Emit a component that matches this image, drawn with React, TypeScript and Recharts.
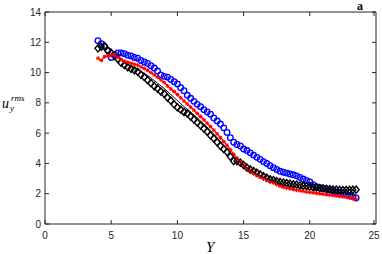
import { ScatterChart, Scatter, XAxis, YAxis } from 'recharts';

const ys = [
  4.0, 4.25, 4.5, 4.75, 5.0, 5.25, 5.5, 5.75, 6.0, 6.25, 6.5, 6.75, 7.0, 7.25, 7.5, 7.75,
  8.0, 8.25, 8.5, 8.75, 9.0, 9.25, 9.5, 9.75, 10.0, 10.25, 10.5, 10.75, 11.0, 11.25, 11.5, 11.75,
  12.0, 12.25, 12.5, 12.75, 13.0, 13.25, 13.5, 13.75, 14.0, 14.25, 14.5, 14.75, 15.0, 15.25, 15.5, 15.75,
  16.0, 16.25, 16.5, 16.75, 17.0, 17.25, 17.5, 17.75, 18.0, 18.25, 18.5, 18.75, 19.0, 19.25, 19.5, 19.75,
  20.0, 20.25, 20.5, 20.75, 21.0, 21.25, 21.5, 21.75, 22.0, 22.25, 22.5, 22.75, 23.0, 23.25, 23.5,
];

const blueRms = [
  12.1, 11.9, 11.7, 11.45, 11.0, 11.2, 11.3, 11.3, 11.25, 11.15, 11.1, 11.0, 10.95, 10.8, 10.7, 10.6,
  10.45, 10.3, 10.1, 9.85, 9.75, 9.7, 9.55, 9.4, 9.25, 9.0, 8.8, 8.5, 8.3, 8.1, 7.9, 7.75,
  7.55, 7.4, 7.25, 7.0, 6.8, 6.6, 6.35, 6.05, 5.7, 5.4, 5.25, 5.15, 4.95, 4.85, 4.7, 4.55,
  4.4, 4.27, 4.12, 4.0, 3.85, 3.72, 3.6, 3.48, 3.42, 3.36, 3.3, 3.25, 3.18, 3.08, 2.97, 2.88,
  2.78, 2.6, 2.47, 2.4, 2.35, 2.3, 2.25, 2.18, 2.12, 2.06, 2.01, 1.95, 1.88, 1.8, 1.72,
];

const blackRms = [
  11.6, 11.7, 11.75, 11.45, 11.3, 11.1, 10.9, 10.65, 10.5, 10.35, 10.25, 10.15, 10.05, 9.85, 9.7, 9.5,
  9.3, 9.1, 8.95, 8.75, 8.6, 8.35, 8.15, 7.9, 7.7, 7.55, 7.4, 7.3, 7.1, 6.9, 6.7, 6.5,
  6.3, 6.1, 5.85, 5.65, 5.4, 5.15, 4.95, 4.75, 4.45, 4.15, 4.15, 4.05, 3.9, 3.72, 3.6, 3.5,
  3.38, 3.27, 3.15, 3.05, 2.95, 2.9, 2.83, 2.77, 2.73, 2.7, 2.66, 2.62, 2.6, 2.55, 2.52, 2.5,
  2.47, 2.43, 2.4, 2.37, 2.35, 2.32, 2.3, 2.28, 2.27, 2.25, 2.24, 2.25, 2.25, 2.26, 2.27,
];

const redRms = [
  10.95, 10.8, 11.05, 11.1, 11.15, 11.2, 11.0, 10.85, 10.75, 10.68, 10.62, 10.55, 10.5, 10.38, 10.27, 10.15,
  10.0, 9.85, 9.7, 9.52, 9.35, 9.12, 8.92, 8.75, 8.55, 8.33, 8.12, 7.92, 7.72, 7.52, 7.3, 7.1,
  6.88, 6.65, 6.43, 6.2, 5.95, 5.7, 5.45, 5.2, 4.9, 4.6, 4.35, 4.1, 3.85, 3.65, 3.5, 3.35,
  3.22, 3.1, 3.0, 2.9, 2.82, 2.72, 2.62, 2.5, 2.43, 2.38, 2.33, 2.28, 2.24, 2.2, 2.16, 2.12,
  2.09, 2.06, 2.03, 2.0, 1.97, 1.94, 1.91, 1.88, 1.85, 1.82, 1.79, 1.76, 1.72, 1.68, 1.64,
];

const lineYs = [
  6.0, 6.5, 7.0, 7.5, 8.0, 8.5, 9.0, 9.5, 10.0, 10.5, 11.0, 11.5, 12.0, 12.5, 13.0, 13.5, 14.0, 14.5,
  15.0, 15.5, 16.0, 16.5, 17.0, 17.5, 18.0, 18.5, 19.0, 19.5, 20.0, 20.5, 21.0, 21.5, 22.0, 22.5, 23.0, 23.5,
];
const blackLine = [
  10.6, 10.42, 10.2, 9.95, 9.65, 9.3, 8.95, 8.55, 8.15, 7.75, 7.4, 7.0, 6.6, 6.15, 5.7, 5.2, 4.7, 4.25,
  3.88, 3.55, 3.3, 3.08, 2.9, 2.73, 2.58, 2.5, 2.42, 2.35, 2.28, 2.22, 2.16, 2.1, 2.05, 2.0, 1.95, 1.9,
];

const xTicks = [0, 5, 10, 15, 20, 25];
const yTicks = [0, 2, 4, 6, 8, 10, 12, 14];

const axisColor = '#262626';
const tickFont = { fontFamily: 'Liberation Sans, Arial, sans-serif', fontSize: 10, fill: axisColor };

const toPts = (xs: number[], vs: number[]) => xs.map((x, i) => ({ x, v: vs[i] }));

const BottomTick = ({ x, y, payload }: any) => (
  <g>
    <line x1={x} x2={x} y1={y} y2={y - 4} stroke={axisColor} />
    <text x={x} y={y + 15} textAnchor="middle" {...tickFont}>{payload.value}</text>
  </g>
);
const TopTick = ({ x, y }: any) => <line x1={x} x2={x} y1={y} y2={y + 4} stroke={axisColor} />;
const LeftTick = ({ x, y, payload }: any) => (
  <g>
    <line x1={x} x2={x + 4} y1={y} y2={y} stroke={axisColor} />
    <text x={x - 4} y={y + 3.5} textAnchor="end" {...tickFont}>{payload.value}</text>
  </g>
);
const RightTick = ({ x, y }: any) => <line x1={x} x2={x - 4} y1={y} y2={y} stroke={axisColor} />;

const Circle = ({ cx, cy }: any) => (
  <circle cx={cx} cy={cy} r={2.8} fill="none" stroke="#0000ff" strokeWidth={1.3} />
);
const Diamond = ({ cx, cy }: any) => (
  <path
    d={`M${cx},${cy - 3.6}L${cx + 3},${cy}L${cx},${cy + 3.6}L${cx - 3},${cy}Z`}
    fill="none"
    stroke="#000"
    strokeWidth={1.4}
  />
);
const Star = ({ cx, cy }: any) => (
  <path
    d={`M${cx - 2},${cy}H${cx + 2}M${cx},${cy - 2}V${cy + 2}M${cx - 1.5},${cy - 1.5}L${cx + 1.5},${cy + 1.5}M${cx - 1.5},${cy + 1.5}L${cx + 1.5},${cy - 1.5}`}
    stroke="#ff0000"
    strokeWidth={1}
  />
);
const Nothing = () => <g />;

const serif = 'Liberation Serif, Times New Roman, serif';

export default function App() {
  return (
    <div style={{ position: 'absolute', left: 0, top: 0, width: 382, height: 254, background: '#fff' }}>
      <ScatterChart width={382} height={254} margin={{ top: 11, right: 5, bottom: 0, left: 0 }}>
        <XAxis
          xAxisId="top"
          orientation="top"
          type="number"
          dataKey="x"
          domain={[0, 25]}
          ticks={xTicks}
          height={1}
          tickSize={0}
          tickMargin={0}
          tickLine={false}
          tick={<TopTick />}
          stroke={axisColor}
        />
        <YAxis
          yAxisId="right"
          orientation="right"
          type="number"
          dataKey="v"
          domain={[0, 14]}
          ticks={yTicks}
          width={1}
          tickSize={0}
          tickMargin={0}
          tickLine={false}
          tick={<RightTick />}
          stroke={axisColor}
        />
        <XAxis
          type="number"
          dataKey="x"
          domain={[0, 25]}
          ticks={xTicks}
          height={30}
          tickSize={0}
          tickMargin={0}
          tickLine={false}
          tick={<BottomTick />}
          stroke={axisColor}
        />
        <YAxis
          type="number"
          dataKey="v"
          domain={[0, 14]}
          ticks={yTicks}
          width={45}
          tickSize={0}
          tickMargin={0}
          tickLine={false}
          tick={<LeftTick />}
          stroke={axisColor}
        />
        <Scatter data={toPts(ys, blueRms)} shape={<Circle />} isAnimationActive={false} />
        <Scatter data={toPts(ys, blackRms)} shape={<Diamond />} isAnimationActive={false} />
        <Scatter
          data={toPts(ys, redRms)}
          shape={<Star />}
          line={{ stroke: '#ff0000', strokeWidth: 1.3 }}
          lineType="joint"
          isAnimationActive={false}
        />
        <Scatter
          xAxisId="top"
          yAxisId="right"
          data={toPts(lineYs, blackLine)}
          shape={<Nothing />}
          line={{ stroke: '#000', strokeWidth: 1 }}
          lineType="joint"
          isAnimationActive={false}
        />
      </ScatterChart>
      <svg width={382} height={254} style={{ position: 'absolute', left: 0, top: 0, pointerEvents: 'none' }}>
        <text x={2} y={108} fontFamily={serif} fontStyle="italic" fontSize={14} fill="#000">u</text>
        <text x={11} y={101} fontFamily={serif} fontStyle="italic" fontSize={9} fill="#000">rms</text>
        <text x={10} y={111} fontFamily={serif} fontStyle="italic" fontSize={9} fill="#000">y</text>
        <text x={206} y={252} fontFamily={serif} fontStyle="italic" fontSize={15} fill="#000">Y</text>
        <text x={357} y={10} fontFamily={serif} fontWeight="bold" fontSize={12} fill="#000">a</text>
      </svg>
    </div>
  );
}
